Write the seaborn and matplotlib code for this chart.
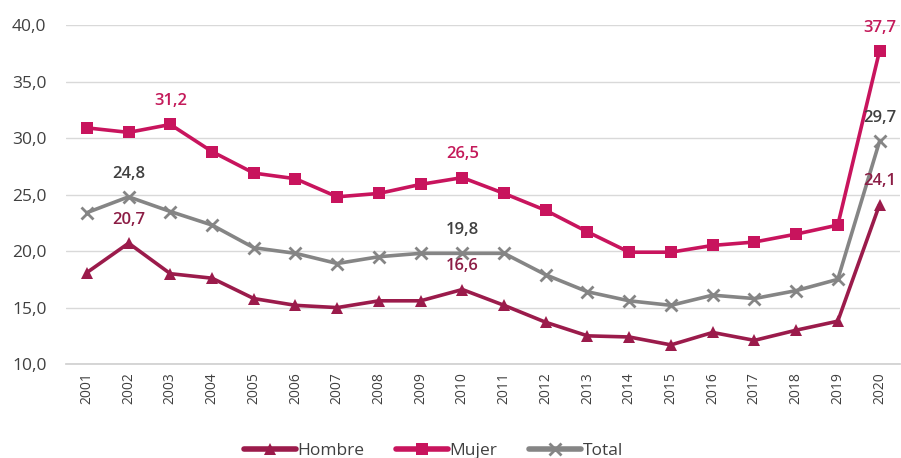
import matplotlib
matplotlib.use("Agg")
import matplotlib.pyplot as plt
import seaborn as sns
import pandas as pd

years = list(range(2001, 2021))
hombre = [18.1, 20.7, 18.0, 17.6, 15.8, 15.2, 15.0, 15.6, 15.6, 16.6, 15.2, 13.7, 12.5, 12.4, 11.7, 12.8, 12.1, 13.0, 13.8, 24.1]
mujer = [30.9, 30.5, 31.2, 28.8, 26.9, 26.4, 24.8, 25.1, 25.9, 26.5, 25.1, 23.6, 21.7, 19.9, 19.9, 20.5, 20.8, 21.5, 22.3, 37.7]
total = [23.4, 24.8, 23.5, 22.3, 20.3, 19.8, 18.9, 19.5, 19.8, 19.8, 19.8, 17.9, 16.4, 15.6, 15.2, 16.1, 15.8, 16.5, 17.5, 29.7]
series_names = ["Hombre", "Mujer", "Total"]
y_ticks = [10, 15, 20, 25, 30, 35, 40]

# labelled points (series, year)
labelled = {"Hombre": [2002, 2010, 2020], "Mujer": [2003, 2010, 2020], "Total": [2002, 2010, 2020]}

colors = {"Hombre": "#9B1B4B", "Mujer": "#C8145D", "Total": "#858585"}
label_colors = {"Hombre": "#8C1D45", "Mujer": "#C41A5A", "Total": "#404040"}
markers = {"Hombre": "^", "Mujer": "s", "Total": "x"}

df = pd.DataFrame({
    "year": years * 3,
    "value": hombre + mujer + total,
    "serie": ["Hombre"] * 20 + ["Mujer"] * 20 + ["Total"] * 20,
})

sns.set_theme(style="white")
plt.rcParams["font.family"] = ["Open Sans", "DejaVu Sans"]

fig = plt.figure(figsize=(9.01, 4.58), dpi=100)
ax = fig.add_axes([0.0733, 0.205, 0.926, 0.7404])

for name in series_names:
    sub = df[df.serie == name]
    mk = markers[name]
    sns.lineplot(data=sub, x="year", y="value", ax=ax, color=colors[name],
                 marker=mk, markersize=8 if mk != "x" else 9,
                 markeredgewidth=0 if mk != "x" else 2, markeredgecolor=colors[name],
                 linewidth=2.6, label=name)

vals = {"Hombre": hombre, "Mujer": mujer, "Total": total}
for name in series_names:
    for yr in labelled[name]:
        v = vals[name][years.index(yr)]
        ax.annotate(f"{v:.1f}".replace(".", ","), (yr, v), xytext=(0, 11),
                    textcoords="offset points", ha="center", va="bottom",
                    fontsize=12, fontweight="semibold", color=label_colors[name])

ax.set_xlim(2000.5, 2020.5)
ax.set_ylim(10, 40)
ax.set_yticks(y_ticks)
ax.set_yticklabels([f"{t:.1f}".replace(".", ",") for t in y_ticks], fontsize=12.5, color="#404040")
ax.set_xticks(years)
ax.set_xticklabels([str(y) for y in years], rotation=90, fontsize=10, color="#404040")
ax.set_xlabel("")
ax.set_ylabel("")
ax.grid(axis="y", color="#D9D9D9", linewidth=1)
ax.grid(axis="x", visible=False)
for s in ["top", "right", "left"]:
    ax.spines[s].set_visible(False)
ax.spines["bottom"].set_color("#D0D0D0")
ax.tick_params(axis="both", length=0, pad=6)
ax.tick_params(axis="y", pad=14)

handles, labels = ax.get_legend_handles_labels()
leg = ax.legend(handles, labels, loc="upper center", bbox_to_anchor=(0.44, -0.185),
                ncol=3, frameon=False, fontsize=12.5, handlelength=3.0,
                handletextpad=0.1, columnspacing=1.8)
for t in leg.get_texts():
    t.set_color("#404040")
for line in leg.get_lines():
    line.set_linewidth(4)

fig.savefig("out.png", dpi=100)
